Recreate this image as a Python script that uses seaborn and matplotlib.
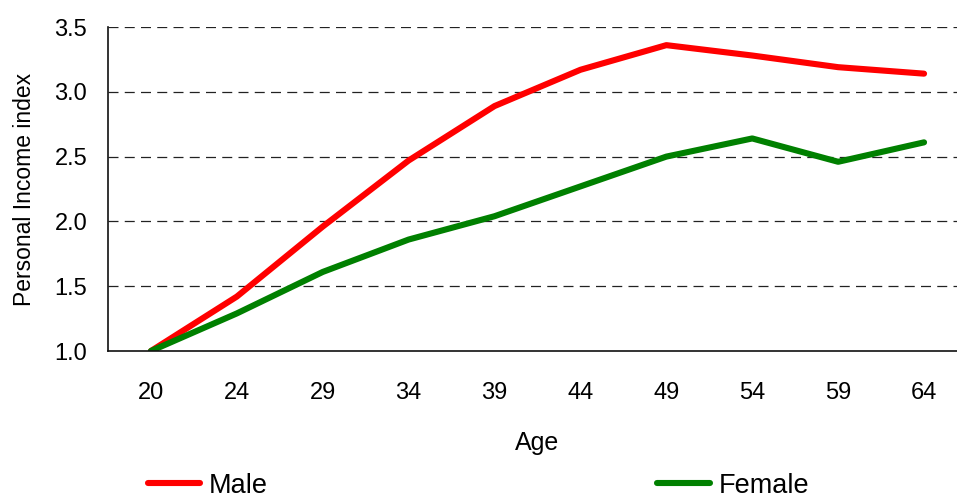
import matplotlib
matplotlib.use("Agg")
import matplotlib.pyplot as plt
import seaborn as sns
import pandas as pd

# Personal income index by age group
ages = ["20", "24", "29", "34", "39", "44", "49", "54", "59", "64"]
male = [1.00, 1.42, 1.96, 2.47, 2.89, 3.17, 3.36, 3.28, 3.19, 3.14]
female = [1.00, 1.29, 1.61, 1.86, 2.04, 2.27, 2.50, 2.64, 2.46, 2.61]
series_names = ["Male", "Female"]
series_colors = {"Male": "#ff0000", "Female": "#008000"}
y_ticks = [1.0, 1.5, 2.0, 2.5, 3.0, 3.5]

df = pd.DataFrame({
    "Age": ages * 2,
    "pos": list(range(len(ages))) * 2,
    "Index": male + female,
    "Sex": [series_names[0]] * len(ages) + [series_names[1]] * len(ages),
})

sns.set_style("white")
plt.rcParams["font.family"] = ["Liberation Sans", "DejaVu Sans"]
plt.rcParams["text.color"] = "black"
plt.rcParams["axes.labelcolor"] = "black"
plt.rcParams["xtick.color"] = "black"
plt.rcParams["ytick.color"] = "black"

W, H = 957, 497
fig = plt.figure(figsize=(W / 100, H / 100), dpi=100)
ax = fig.add_axes([108 / W, (H - 351) / H, 859 / W, 324 / H])

sns.lineplot(data=df, x="pos", y="Index", hue="Sex", palette=series_colors,
             linewidth=4.4, ax=ax, legend=False, solid_capstyle="round")

ax.set_xlim(-0.5, len(ages) - 0.5)
ax.set_ylim(1.0, 3.5)
ax.set_yticks(y_ticks)
ax.set_yticklabels([f"{v:.1f}" for v in y_ticks])
ax.set_xticks(range(len(ages)))
ax.set_xticklabels(ages)
ax.set_xticks([i + 0.5 for i in range(len(ages) - 1)], minor=True)

ax.tick_params(axis="x", which="major", length=0, pad=22, labelsize=17)
ax.tick_params(axis="x", which="minor", direction="in", length=9, width=1, color="#333333")
ax.tick_params(axis="y", which="major", length=0, pad=15, labelsize=17)

for v in y_ticks[1:]:
    ax.axhline(v, color="#222222", lw=0.9, dashes=(8, 5), zorder=0)

for s in ["top", "right"]:
    ax.spines[s].set_visible(False)
for s in ["left", "bottom"]:
    ax.spines[s].set_color("#111111")
    ax.spines[s].set_linewidth(1.2)

ax.set_xlabel("Age", fontsize=18, labelpad=20)
ax.set_ylabel("Personal Income index", fontsize=16.5)
ax.yaxis.set_label_coords(-0.084, 0.5)

handles = [plt.Line2D([], [], color=series_colors[n], lw=4.4, solid_capstyle="round")
           for n in series_names]
fig.legend(handles, series_names, loc="upper left", ncol=2,
           bbox_to_anchor=(134 / W, 1 - 459 / H), frameon=False,
           fontsize=19.5, handlelength=1.95, handletextpad=0.3,
           columnspacing=14.4, borderpad=0)

fig.savefig("out.png", dpi=100)
